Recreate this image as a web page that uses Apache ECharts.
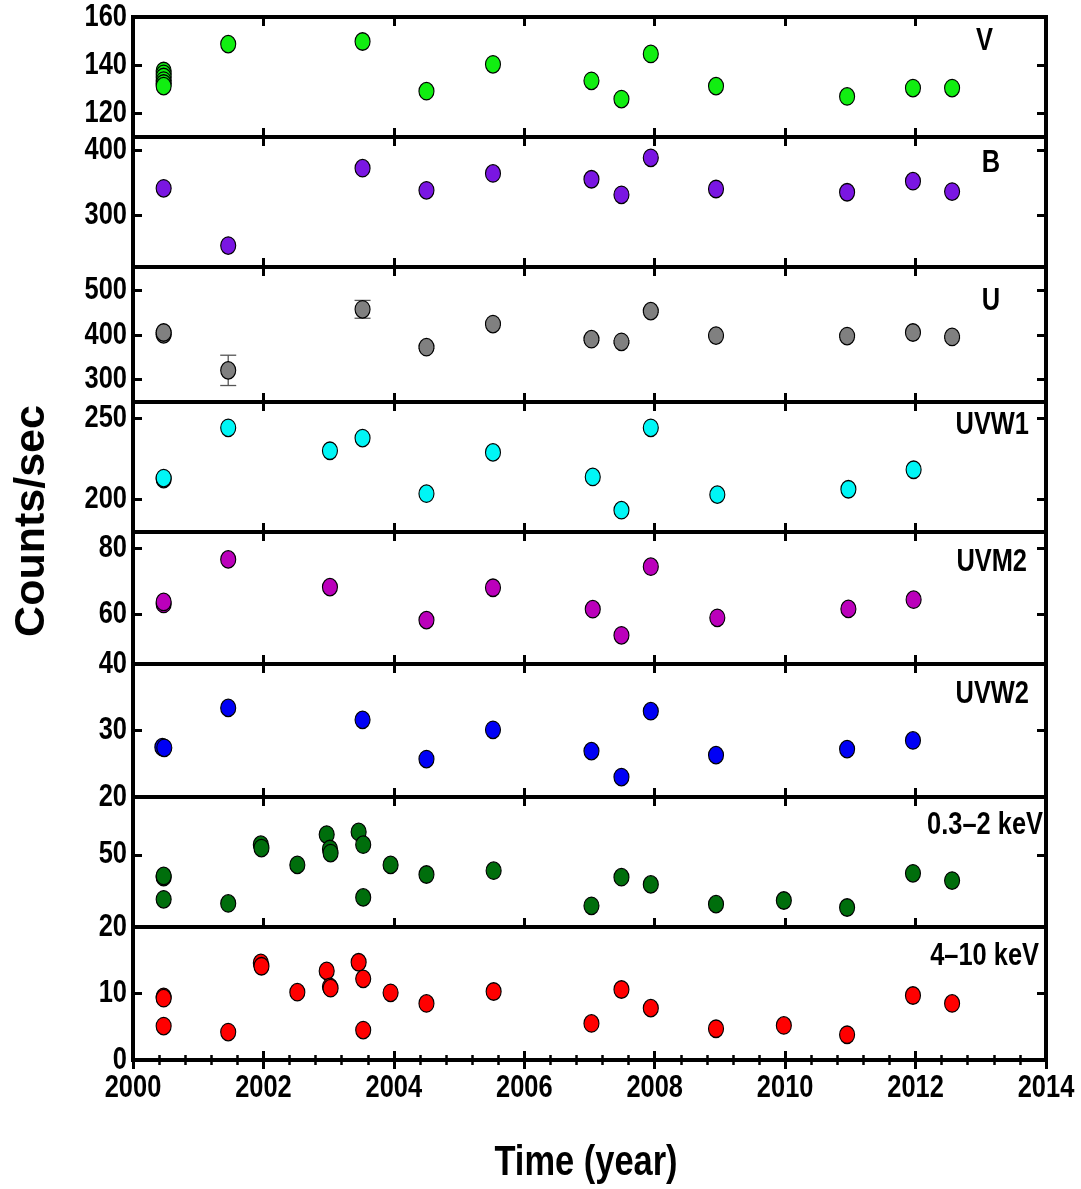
<!DOCTYPE html>
<html><head><meta charset="utf-8">
<script src="https://cdn.jsdelivr.net/npm/echarts@6/dist/echarts.min.js"></script>
<style>html,body{margin:0;padding:0;background:#fff}#c{width:1081px;height:1189px}</style>
</head><body><div id="c"></div><script>
// ---------------- data ----------------
const xTicks = [2000, 2002, 2004, 2006, 2008, 2010, 2012, 2014];

const vTime   = [2000.47, 2000.47, 2000.47, 2000.47, 2000.47, 2000.47, 2001.46, 2003.52, 2004.50, 2005.52, 2007.03, 2007.49, 2007.94, 2008.94, 2010.95, 2011.96, 2012.56];
const vCounts = [137.5, 136.3, 135.0, 133.5, 132.3, 131.2, 148.7, 149.8, 129.1, 140.3, 133.4, 125.8, 144.6, 131.2, 126.9, 130.4, 130.4];
const vTicks  = [120, 140, 160];

const bTime   = [2000.47, 2001.46, 2003.52, 2004.50, 2005.52, 2007.03, 2007.49, 2007.94, 2008.94, 2010.95, 2011.96, 2012.56];
const bCounts = [341, 253, 372, 338, 364, 355, 331, 388, 340, 335, 352, 336];
const bTicks  = [300, 400];

const uTime   = [2000.47, 2000.47, 2001.46, 2003.52, 2004.50, 2005.52, 2007.03, 2007.49, 2007.94, 2008.94, 2010.95, 2011.96, 2012.56];
const uCounts = [402, 406, 321, 458, 373, 425, 391, 385, 454, 399, 398, 406, 396];
const uErrors = [4, 4, 34, 20, 3, 3, 3, 3, 3, 3, 3, 3, 3];
const uTicks  = [300, 400, 500];

const w1Time   = [2000.47, 2000.47, 2001.46, 2003.02, 2003.52, 2004.50, 2005.52, 2007.05, 2007.49, 2007.94, 2008.96, 2010.97, 2011.97];
const w1Counts = [212.6, 213.2, 244.1, 230.0, 237.8, 203.6, 229.0, 213.9, 193.4, 244.1, 203.0, 206.3, 218.3];
const w1Ticks  = [200, 250];

const m2Time   = [2000.47, 2000.47, 2001.46, 2003.02, 2004.50, 2005.52, 2007.05, 2007.49, 2007.94, 2008.96, 2010.97, 2011.97];
const m2Counts = [63.2, 63.8, 76.7, 68.3, 58.3, 68.1, 61.6, 53.7, 74.5, 59.0, 61.7, 64.5];
const m2Ticks  = [60, 80];

const w2Time   = [2000.45, 2000.48, 2001.46, 2003.52, 2004.50, 2005.52, 2007.03, 2007.49, 2007.94, 2008.94, 2010.95, 2011.96];
const w2Counts = [27.5, 27.4, 33.4, 31.6, 25.7, 30.1, 26.9, 23.0, 32.9, 26.3, 27.2, 28.5];
const w2Ticks  = [20, 30, 40];

const softTime   = [2000.47, 2000.47, 2000.47, 2001.46, 2001.96, 2001.97, 2002.52, 2002.97, 2003.02, 2003.03, 2003.46, 2003.53, 2003.53, 2003.95, 2004.50, 2005.53, 2007.03, 2007.49, 2007.94, 2008.94, 2009.98, 2010.95, 2011.96, 2012.56];
const softCounts = [40.7, 41.2, 31.5, 29.8, 54.2, 52.8, 45.8, 58.4, 52.4, 50.7, 59.5, 54.2, 32.3, 45.8, 41.8, 43.4, 28.8, 40.7, 37.7, 29.5, 31.0, 28.1, 42.3, 39.3];
const softTicks  = [50];

const hardTime   = [2000.47, 2000.47, 2000.47, 2001.46, 2001.96, 2001.97, 2002.52, 2002.97, 2003.02, 2003.03, 2003.46, 2003.53, 2003.53, 2003.95, 2004.50, 2005.53, 2007.03, 2007.49, 2007.94, 2008.94, 2009.98, 2010.95, 2011.96, 2012.56];
const hardCounts = [9.5, 9.3, 5.1, 4.2, 14.6, 14.1, 10.2, 13.4, 11.0, 10.8, 14.7, 12.2, 4.5, 10.1, 8.5, 10.3, 5.5, 10.6, 7.8, 4.7, 5.2, 3.8, 9.7, 8.5];
const hardTicks  = [0, 10, 20];

const bandNames = ['V', 'B', 'U', 'UVW1', 'UVM2', 'UVW2', '0.3\u20132 keV', '4\u201310 keV'];

// ---------------- layout / style ----------------
const panels = [
  {t: vTime,    c: vCounts,    ticks: vTicks,    min: 110, max: 160, color: '#11ee11', top: 17,  bot: 137, lx: 993,  ly: 41},
  {t: bTime,    c: bCounts,    ticks: bTicks,    min: 220, max: 420, color: '#7a16e2', top: 137, bot: 267, lx: 1000, ly: 163},
  {t: uTime,    c: uCounts,    ticks: uTicks,    min: 250, max: 553, color: '#808080', top: 267, bot: 402, lx: 1000, ly: 301},
  {t: w1Time,   c: w1Counts,   ticks: w1Ticks,   min: 180, max: 260, color: '#00f6f6', top: 402, bot: 532, lx: 1029, ly: 425},
  {t: m2Time,   c: m2Counts,   ticks: m2Ticks,   min: 45,  max: 85,  color: '#bb00bb', top: 532, bot: 664, lx: 1027, ly: 562},
  {t: w2Time,   c: w2Counts,   ticks: w2Ticks,   min: 20,  max: 40,  color: '#0000f5', top: 664, bot: 797, lx: 1029, ly: 694},
  {t: softTime, c: softCounts, ticks: softTicks, min: 20,  max: 74,  color: '#006e0c', top: 797, bot: 927, lx: 1043, ly: 825},
  {t: hardTime, c: hardCounts, ticks: hardTicks, min: 0,   max: 20,  color: '#ff0000', top: 927, bot: 1060, lx: 1039, ly: 956}
];

const LEFT = 133, RIGHT_EDGE = 1046;
const FONT = '"Liberation Sans", Arial, Helvetica, sans-serif';
const NARROW = 0.82;   // emulate Helvetica/Arial Narrow Bold

const grid = [], xAxis = [], yAxis = [], series = [], graphic = [];
panels.forEach((p, i) => {
  const last = i === panels.length - 1;
  grid.push({left: LEFT, width: RIGHT_EDGE - LEFT, top: p.top, height: p.bot - p.top,
             show: true, borderColor: '#000', borderWidth: 4, backgroundColor: 'transparent'});
  ['bottom', 'top'].forEach(pos => {
    xAxis.push({
      type: 'value', gridIndex: i, position: pos, min: xTicks[0], max: xTicks[xTicks.length - 1], interval: 2,
      axisLine: {show: false},
      axisTick: {show: true, inside: true, length: 9, lineStyle: {color: '#000', width: 3}},
      minorTick: {show: last, splitNumber: 5, length: 5, lineStyle: {color: '#000', width: 2.5}},
      splitLine: {show: false},
      axisLabel: {show: false}
    });
  });
  ['left', 'right'].forEach(pos => {
    yAxis.push({
      type: 'value', gridIndex: i, position: pos, min: p.min, max: p.max,
      axisLine: {show: false},
      axisTick: {show: true, inside: true, length: 9, customValues: p.ticks, lineStyle: {color: '#000', width: 3}},
      splitLine: {show: false},
      axisLabel: {show: false, customValues: p.ticks}
    });
  });
  if (i === 2) {
    series.push({
      type: 'custom', xAxisIndex: 2 * i, yAxisIndex: 2 * i, z: 1,
      data: uTime.map((t, k) => [t, uCounts[k], uErrors[k]]),
      renderItem(params, api) {
        const x = api.value(0), y = api.value(1), e = api.value(2);
        const lo = api.coord([x, y - e]), hi = api.coord([x, y + e]);
        const cw = 8, st = {stroke: '#555', lineWidth: 1.3};
        return {type: 'group', children: [
          {type: 'line', shape: {x1: lo[0], y1: lo[1], x2: hi[0], y2: hi[1]}, style: st},
          {type: 'line', shape: {x1: lo[0] - cw, y1: lo[1], x2: lo[0] + cw, y2: lo[1]}, style: st},
          {type: 'line', shape: {x1: hi[0] - cw, y1: hi[1], x2: hi[0] + cw, y2: hi[1]}, style: st}
        ]};
      }
    });
  }
  series.push({
    type: 'scatter', xAxisIndex: 2 * i, yAxisIndex: 2 * i, z: 3,
    symbol: 'circle', symbolSize: [15, 17.5],
    itemStyle: {color: p.color, borderColor: '#000', borderWidth: 1.2, opacity: 1},
    emphasis: {disabled: true},
    data: p.t.map((t, k) => [t, p.c[k]])
  });
  graphic.push({type: 'text', z: 10, x: p.lx, y: p.ly, scaleX: NARROW,
    style: {text: bandNames[i], x: 0, y: 0, align: 'right', verticalAlign: 'middle', fill: '#000', font: 'bold 31px ' + FONT}});
});

graphic.push({type: 'text', z: 10, rotation: Math.PI / 2, x: 32, y: 521,
  style: {text: 'Counts/sec', x: 0, y: 0, align: 'center', verticalAlign: 'middle', fill: '#000', font: 'bold 43px ' + FONT}});
graphic.push({type: 'text', z: 10, x: 586, y: 1163, scaleX: NARROW,
  style: {text: 'Time (year)', x: 0, y: 0, align: 'center', verticalAlign: 'middle', fill: '#000', font: 'bold 42px ' + FONT}});

const chart = echarts.init(document.getElementById('c'), null, {renderer: 'canvas'});
chart.setOption({animation: false, backgroundColor: '#fff', grid, xAxis, yAxis, series});

// tick labels (narrow bold), placed through the axes' own scales
panels.forEach((p, i) => {
  p.ticks.forEach(v => {
    const py = chart.convertToPixel({yAxisIndex: 2 * i}, v);
    graphic.push({type: 'text', z: 10, x: LEFT - 6, y: py, scaleX: NARROW,
      style: {text: String(v), x: 0, y: 0, align: 'right', verticalAlign: 'middle', fill: '#000', font: 'bold 31px ' + FONT}});
  });
});
const lastX = 2 * (panels.length - 1);
const bottomY = panels[panels.length - 1].bot;
xTicks.forEach(v => {
  const px = chart.convertToPixel({xAxisIndex: lastX}, v);
  graphic.push({type: 'text', z: 10, x: px, y: bottomY + 28, scaleX: NARROW,
    style: {text: String(v), x: 0, y: 0, align: 'center', verticalAlign: 'middle', fill: '#000', font: 'bold 31px ' + FONT}});
});
chart.setOption({graphic});
</script></body></html>
